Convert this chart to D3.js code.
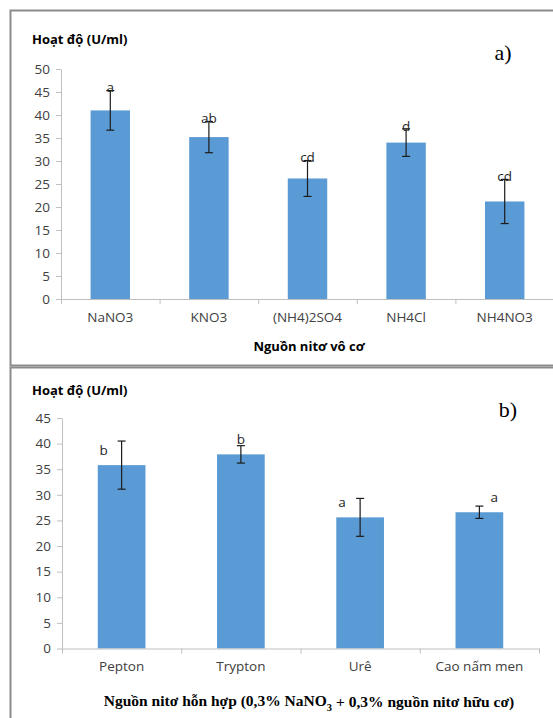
<!DOCTYPE html>
<html>
<head>
<meta charset="utf-8">
<script src="https://cdn.jsdelivr.net/npm/d3@7"></script>
<style>
  html, body { margin: 0; padding: 0; background: #fff; }
  svg { display: block; }
  .tick text { font-family: "Open Sans", sans-serif; }
</style>
</head>
<body>
<svg id="chart" width="553" height="718"></svg>
<script>
// Panel a: inorganic nitrogen sources
const catsA = ["NaNO3", "KNO3", "(NH4)2SO4", "NH4Cl", "NH4NO3"];
const meanA = [41.0, 35.2, 26.2, 34.0, 21.2];
const errA  = [4.3, 3.4, 3.9, 3.0, 4.8];
const letA  = ["a", "ab", "cd", "d", "cd"];
const ticksA = [0, 5, 10, 15, 20, 25, 30, 35, 40, 45, 50];

// Panel b: mixed nitrogen sources
const catsB = ["Pepton", "Trypton", "Urê", "Cao nấm men"];
const meanB = [35.8, 37.9, 25.6, 26.6];
const errB  = [4.7, 1.7, 3.7, 1.2];
const letB  = ["b", "b", "a", "a"];
const ticksB = [0, 5, 10, 15, 20, 25, 30, 35, 40, 45];

// where each significance letter sits relative to its bar
const placeA = ["top", "top", "top", "top", "top"];
const placeB = ["left", "top", "left", "right"];

const svg = d3.select("#chart");
const BAR = "#5b9bd5";
const AXIS = "#bfbfbf";
const TXT = "#404040";
const SANS = "'Open Sans', sans-serif";

// panel frames
svg.append("rect").attr("x", 10.5).attr("y", 10.5).attr("width", 560).attr("height", 355)
  .attr("fill", "none").attr("stroke", "#8c8c8c").attr("stroke-width", 2);
svg.append("rect").attr("x", 10.5).attr("y", 367.5).attr("width", 560).attr("height", 400)
  .attr("fill", "none").attr("stroke", "#8c8c8c").attr("stroke-width", 2);

function panel(o) {
  const g = svg.append("g");
  const n = o.cats.length;
  const y = d3.scaleLinear().domain([0, d3.max(o.ticks)]).range(o.yr);
  const x = d3.scaleBand().domain(o.cats).range(o.xr).paddingInner(0.6).paddingOuter(0.3);
  const xi = d3.scaleLinear().domain([0, n]).range(o.xr);

  // y axis
  const ya = g.append("g").attr("transform", `translate(${o.xr[0]},0)`)
    .call(d3.axisLeft(y).tickValues(o.ticks).tickSize(5).tickSizeOuter(0).tickPadding(6));
  ya.select(".domain").attr("stroke", AXIS);
  ya.selectAll(".tick line").attr("stroke", AXIS);
  ya.selectAll(".tick text").attr("fill", TXT).attr("font-size", 13.5);

  // bars
  g.selectAll("rect.bar").data(o.mean).join("rect").attr("class", "bar")
    .attr("x", (d, i) => x(o.cats[i]))
    .attr("width", x.bandwidth())
    .attr("y", d => y(d))
    .attr("height", d => y(0) - y(d))
    .attr("fill", BAR);

  // x axis with ticks between categories
  const xa = g.append("g").attr("transform", `translate(0,${y(0)})`)
    .call(d3.axisBottom(xi).tickValues(d3.range(n + 1)).tickFormat("").tickSize(5).tickSizeOuter(0));
  xa.select(".domain").attr("stroke", AXIS);
  xa.selectAll(".tick line").attr("stroke", AXIS);

  const xl = g.append("g").attr("transform", `translate(0,${y(0)})`)
    .call(d3.axisBottom(x).tickSize(0).tickPadding(o.labPad));
  xl.select(".domain").remove();
  xl.selectAll(".tick text").attr("fill", TXT).attr("font-size", 13.5);

  // error bars
  const cap = 4;
  o.mean.forEach((m, i) => {
    const cx = x(o.cats[i]) + x.bandwidth() / 2;
    const e = o.err[i];
    const eg = g.append("g").attr("stroke", "#1b1b1b").attr("stroke-width", 1.2);
    eg.append("line").attr("x1", cx).attr("x2", cx).attr("y1", y(m - e)).attr("y2", y(m + e));
    eg.append("line").attr("x1", cx - cap).attr("x2", cx + cap).attr("y1", y(m + e)).attr("y2", y(m + e));
    eg.append("line").attr("x1", cx - cap).attr("x2", cx + cap).attr("y1", y(m - e)).attr("y2", y(m - e));

    // significance letter
    const p = o.place[i];
    let lx = cx, ly;
    if (p === "top") {
      ly = (o.anchor === "err" ? y(m + e) - 3 : y(m) - 15);
    } else {
      ly = y(m) - 15;
      lx = cx + (p === "left" ? -18 : 15);
    }
    g.append("text").attr("x", lx).attr("y", ly).attr("dy", "0.35em")
      .attr("text-anchor", "middle").attr("font-family", SANS).attr("font-size", 13.5)
      .attr("fill", "#262626").text(o.lets[i]);
  });

  // y title
  g.append("text").attr("x", 32).attr("y", o.titleY).attr("dy", "0.35em")
    .attr("font-family", SANS).attr("font-weight", "bold").attr("font-size", 13)
    .attr("fill", "#000").text("Hoạt độ (U/ml)");

  // panel tag
  g.append("text").attr("x", o.tagX).attr("y", o.tagY).attr("dy", "0.35em")
    .attr("text-anchor", "middle").attr("font-family", "'Liberation Serif', serif")
    .attr("font-size", 22).attr("fill", "#000").text(o.tag);
  return { x, y };
}

panel({ cats: catsA, mean: meanA, err: errA, lets: letA, ticks: ticksA, place: placeA,
  anchor: "err", xr: [61, 554], yr: [299, 69], labPad: 13, titleY: 39,
  tag: "a)", tagX: 503, tagY: 52 });

panel({ cats: catsB, mean: meanB, err: errB, lets: letB, ticks: ticksB, place: placeB,
  anchor: "bar", xr: [62, 539], yr: [648.5, 418], labPad: 13, titleY: 390,
  tag: "b)", tagX: 508, tagY: 409 });

// x-axis titles
svg.append("text").attr("x", 309).attr("y", 346).attr("dy", "0.35em")
  .attr("text-anchor", "middle").attr("font-family", SANS).attr("font-weight", "bold")
  .attr("font-size", 13).attr("fill", "#000").text("Nguồn nitơ vô cơ");

const tb = svg.append("text").attr("x", 309).attr("y", 701).attr("dy", "0.35em")
  .attr("text-anchor", "middle").attr("font-family", "'Liberation Serif', serif")
  .attr("font-weight", "bold").attr("font-size", 15.5).attr("fill", "#000");
tb.append("tspan").text("Nguồn nitơ hỗn hợp (0,3% NaNO");
tb.append("tspan").attr("font-size", 10.5).attr("dy", "0.45em").text("3");
tb.append("tspan").attr("dy", "-0.3em").text(" + 0,3% nguồn nitơ hữu cơ)");
</script>
</body>
</html>
